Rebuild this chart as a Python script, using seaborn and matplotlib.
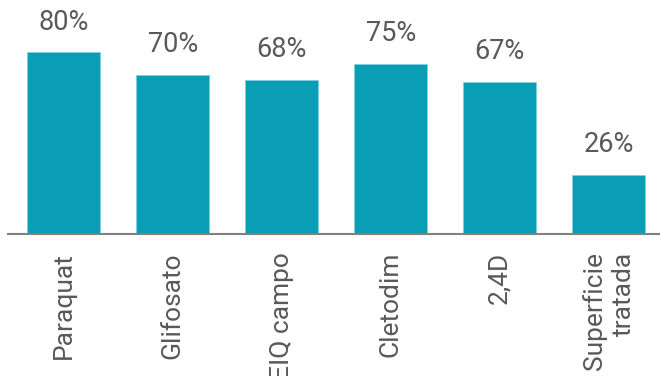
import matplotlib
matplotlib.use("Agg")
import matplotlib.pyplot as plt
import seaborn as sns
import pandas as pd

categories = ["Paraquat", "Glifosato", "EIQ campo", "Cletodim", "2,4D", "Superficie\ntratada"]
values = [80, 70, 68, 75, 67, 26]

sns.set_theme(style="white")
plt.rcParams["font.family"] = ["Roboto", "DejaVu Sans"]

df = pd.DataFrame({"cat": categories, "val": values})
fig = plt.figure(figsize=(6.6, 3.76), dpi=100)
ax = fig.add_axes([8/660, (376-234)/376, (660-8)/660, 234/376])
sns.barplot(data=df, x="cat", y="val", color="#0a9db6", width=0.67, saturation=1,
            edgecolor="#7fd0de", linewidth=0.6, ax=ax)
ax.set_xlim(-0.51, 5.47)
ax.set_ylim(0, 103)
for c in ax.containers:
    ax.bar_label(c, labels=[f"{v}%" for v in values], padding=12, fontsize=19.5, color="#595959")
ax.set_xlabel("")
ax.set_ylabel("")
ax.set_yticks([])
for s in ["top", "right", "left"]:
    ax.spines[s].set_visible(False)
ax.spines["bottom"].set_color("#808080")
ax.spines["bottom"].set_linewidth(1.5)
ax.tick_params(axis="x", length=0, pad=13)
ax.set_xticks(range(len(categories)))
ax.set_xticklabels(categories, rotation=90, fontsize=19, color="#595959", va="top", ha="center",
                   multialignment="right", linespacing=1.25)
fig.savefig("out.png", dpi=100)
